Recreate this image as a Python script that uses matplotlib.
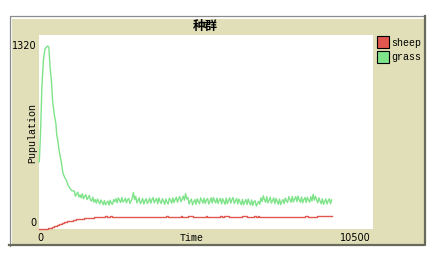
import numpy as np
import matplotlib
matplotlib.use("Agg")
import matplotlib.pyplot as plt
from matplotlib.patches import Rectangle
from matplotlib.lines import Line2D

# ---------------- data ----------------
title = "种群"
series_names = ["sheep", "grass"]
x_label = "Time"
y_label = "Pupulation"
x_max = 10500
y_max = 1320

grass_t_early = [0, 40, 80, 130, 180, 230, 270, 300, 340, 380, 420, 470, 520, 550,
                 590, 620, 690, 745, 800, 850, 900, 955, 1030]
grass_v_early = [458, 660, 960, 1150, 1225, 1240, 1245, 1235, 1100, 1010, 870, 780, 720, 640,
                 590, 537, 458, 380, 350, 333, 300, 279, 260]

grass_t_plateau_start = 1100
grass_t_plateau_step = 45
grass_v_plateau = [
    258, 224, 238, 250, 218, 232, 212, 240, 206, 222, 234, 200, 214, 228, 196, 190,
    216, 184, 200, 176, 204, 188, 170, 198, 182, 166, 194, 164, 178, 190, 162, 196,
    174, 168, 200, 186, 206, 178, 212, 196, 180, 214, 184, 192, 210, 178, 200, 208,
    174, 190, 210, 248, 200, 222, 178, 196, 212, 172, 186, 208, 170, 194, 206, 174,
    188, 210, 176, 200, 214, 178, 196, 208, 172, 212, 186, 174, 206, 190, 168, 204,
    182, 170, 210, 196, 176, 212, 180, 200, 216, 182, 206, 220, 186, 202, 224, 196,
    242, 204, 214, 170, 190, 204, 164, 184, 200, 168, 206, 188, 172, 212, 194, 176,
    210, 174, 198, 208, 170, 188, 212, 176, 214, 192, 178, 210, 174, 196, 208, 170,
    206, 186, 168, 210, 172, 194, 212, 176, 200, 214, 174, 190, 208, 170, 204, 182,
    166, 202, 164, 184, 200, 166, 204, 180, 164, 198, 160, 186, 192, 156, 174, 188,
    168, 212, 186, 226, 200, 182, 220, 178, 198, 216, 176, 194, 212, 172, 208, 188,
    168, 204, 166, 186, 200, 172, 210, 192, 180, 220, 200, 182, 222, 184, 204, 220,
    186, 224, 198, 182, 218, 178, 200, 214, 180, 216, 196, 182, 220, 190, 236, 196,
    222, 200, 178, 212, 190, 172, 206, 168, 188, 204, 170, 192, 206, 172, 198]

sheep_t = [0, 270, 400, 470, 560, 630, 720, 790, 880, 950, 1060, 1160, 1300, 1420, 1580, 1730,
           1900, 2060, 2120, 2220, 2280, 4000, 4060, 4450, 4500, 4680, 4830, 5240, 5290, 5700,
           5750, 5820, 5960, 6370, 6550, 6760, 6830, 6880, 6920, 8360, 8450, 8740, 9200]
sheep_v = [0, 6, 13, 20, 27, 34, 41, 48, 53, 57, 62, 66, 70, 73, 77, 80,
           82, 86, 82, 86, 82, 86, 82, 86, 82, 86, 82, 86, 82, 86,
           82, 86, 82, 86, 82, 86, 82, 86, 82, 86, 82, 86, 86]

# -------------- styling ---------------
W, H = 435, 271
BEIGE = "#e0dfb8"
RED = "#e0574f"
GREEN = "#7fe38a"


def fx(x):
    return x / W


def fy(y):
    return 1 - y / H


grass_t = grass_t_early + [grass_t_plateau_start + 8100 * i / (len(grass_v_plateau) - 1)
                           for i in range(len(grass_v_plateau))]
grass_v = grass_v_early + grass_v_plateau

fig = plt.figure(figsize=(W / 100, H / 100), dpi=100, facecolor="white")

# frame
fig.patches.append(Rectangle((fx(12), fy(244.5)), fx(424.3) - fx(12), fy(18.5) - fy(244.5),
                             transform=fig.transFigure, facecolor=BEIGE, edgecolor="none", zorder=-5))
fig.lines.append(Line2D([fx(9.8), fx(9.8), fx(425)], [fy(245.5), fy(16.0), fy(16.0)],
                        transform=fig.transFigure, color="#8c8c8c", lw=0.9, zorder=-4))
fig.lines.append(Line2D([fx(425.3), fx(425.3), fx(9.5)], [fy(16.0), fy(245.3), fy(245.3)],
                        transform=fig.transFigure, color="#6a6a5c", lw=1.6, zorder=-4))

# plot area
ax = fig.add_axes([fx(39.3), fy(229), fx(373) - fx(39.3), fy(35) - fy(229)])
ax.set_zorder(1)
ax.set_facecolor("white")
for s in ax.spines.values():
    s.set_visible(False)
ax.set_xticks([])
ax.set_yticks([])
ax.set_xlim(0, x_max)
ax.set_ylim(0, y_max)

ax.plot(sheep_t, sheep_v, color=RED, lw=1.0, drawstyle="steps-post", clip_on=False)
ax.plot(grass_t, grass_v, color=GREEN, lw=1.0, clip_on=False)

# texts
cjk = ["Noto Sans CJK SC", "DejaVu Sans"]
fig.text(fx(205.5), fy(26.5), title, family=cjk, fontsize=9, fontweight="bold",
         ha="center", va="center")
fig.text(fx(36.5), fy(46), str(y_max), family="DejaVu Sans", fontsize=7, ha="right", va="center")
fig.text(fx(36.5), fy(222.7), "0", family="DejaVu Sans", fontsize=7, ha="right", va="center")
fig.text(fx(40), fy(237.7), "0", family="DejaVu Sans", fontsize=7, ha="center", va="center")
fig.text(fx(370.5), fy(237.7), str(x_max), family="DejaVu Sans", fontsize=7, ha="right", va="center")
fig.text(fx(191.7), fy(237.7), x_label, family="Liberation Mono", fontsize=7.2, ha="center", va="center")
fig.text(fx(32.7), fy(133), y_label, family="Liberation Mono", fontsize=7.2, rotation=90,
         ha="center", va="center")

# legend
for i, (name, col) in enumerate(zip(series_names, [RED, GREEN])):
    y0 = 35.5 + i * 15
    fig.patches.append(Rectangle((fx(377.5), fy(y0 + 12)), fx(389.5) - fx(377.5), fy(y0) - fy(y0 + 12),
                                 transform=fig.transFigure, facecolor=col, edgecolor="black", lw=0.8))
    fig.text(fx(391.5), fy(y0 + 7), name, family="Liberation Mono", fontsize=7.2, ha="left", va="center")

fig.savefig("out.png", dpi=100, facecolor="white")
